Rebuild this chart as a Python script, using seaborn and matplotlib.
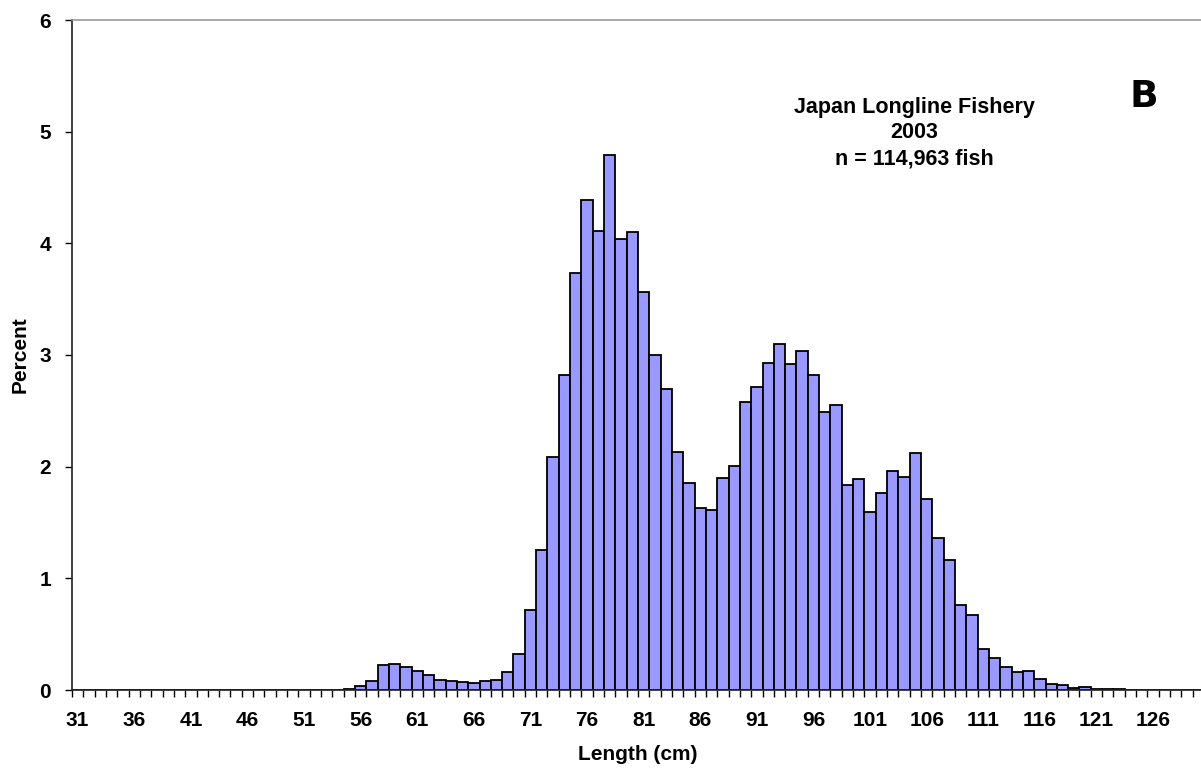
import numpy as np
import pandas as pd
import matplotlib
matplotlib.use("Agg")
import matplotlib.pyplot as plt
import seaborn as sns

# Length classes (cm) and percent of fish in each class
lengths = list(range(31, 131))
percent_31_52 = [0.0] * 22
percent_53_70 = [0.001, 0.003, 0.012, 0.033, 0.078, 0.22, 0.23, 0.21, 0.167,
                 0.13, 0.09, 0.08, 0.07, 0.066, 0.078, 0.087, 0.16, 0.32]
percent_71_90 = [0.72, 1.25, 2.09, 2.82, 3.73, 4.39, 4.11, 4.79, 4.04, 4.10,
                 3.56, 3.00, 2.70, 2.13, 1.85, 1.63, 1.61, 1.90, 2.01, 2.58]
percent_91_110 = [2.71, 2.93, 3.10, 2.92, 3.04, 2.82, 2.49, 2.55, 1.84, 1.89,
                  1.59, 1.76, 1.96, 1.91, 2.12, 1.71, 1.36, 1.16, 0.76, 0.67]
percent_111_130 = [0.37, 0.29, 0.21, 0.16, 0.17, 0.096, 0.054, 0.045, 0.015, 0.03,
                   0.01, 0.007, 0.005, 0.003, 0.004, 0.002, 0.002, 0.001, 0.002, 0.0]
percent = percent_31_52 + percent_53_70 + percent_71_90 + percent_91_110 + percent_111_130

tick_lengths = list(range(31, 127, 5))
y_ticks = [0, 1, 2, 3, 4, 5, 6]
title_lines = ["Japan Longline Fishery", "2003", "n = 114,963 fish"]
panel_letter = "B"

df = pd.DataFrame({"Length": lengths, "Percent": percent})

sns.set_style("ticks")
plt.rcParams["font.family"] = ["Liberation Sans", "DejaVu Sans"]
for key in ["text.color", "axes.labelcolor", "xtick.color", "ytick.color"]:
    plt.rcParams[key] = "black"

W, H = 1201, 772
fig = plt.figure(figsize=(W / 100, H / 100), dpi=100)
ax = fig.add_axes([72 / W, 82 / H, 1132 / W, 670 / H])

sns.barplot(data=df, x="Length", y="Percent", native_scale=True, width=1.0,
            color="#9999FF", saturation=1, edgecolor="black", linewidth=1.3,
            ax=ax)

ax.set_xlim(30.5, 130.5)
ax.set_ylim(0, 6)

ax.set_xticks(tick_lengths)
ax.set_xticklabels([str(v) for v in tick_lengths], fontsize=15,
                   fontweight="bold")
ax.set_xticks(np.arange(30.5, 131, 1.0), minor=True)
ax.tick_params(axis="x", which="major", length=0, pad=15)
ax.tick_params(axis="x", which="minor", length=5, width=1, direction="out",
               color="black")

ax.set_yticks(y_ticks)
ax.set_yticklabels([str(v) for v in y_ticks], fontsize=15, fontweight="bold")
ax.tick_params(axis="y", length=5, width=1, direction="out", color="black",
               pad=10)

ax.set_xlabel("Length (cm)", fontsize=15, fontweight="bold", labelpad=11)
ax.set_ylabel("Percent", fontsize=15, fontweight="bold", labelpad=7)

for side in ["left", "bottom"]:
    ax.spines[side].set_color("#222222")
    ax.spines[side].set_linewidth(1.2)
ax.spines["top"].set_visible(True)
ax.spines["top"].set_color("#999999")
ax.spines["top"].set_linewidth(1.2)
ax.spines["right"].set_visible(False)

# Annotation block: three centred lines, baselines given in pixels from the top
for line, base in zip(title_lines, [113, 138, 164]):
    fig.text(914 / W, 1 - base / H, line, ha="center", va="baseline",
             fontsize=15.5, fontweight="bold")
fig.text(1144 / W, 1 - 107 / H, panel_letter, ha="center", va="baseline",
         fontsize=27, fontweight="heavy", family=["DejaVu Sans"])

fig.savefig("out.png", dpi=100)
